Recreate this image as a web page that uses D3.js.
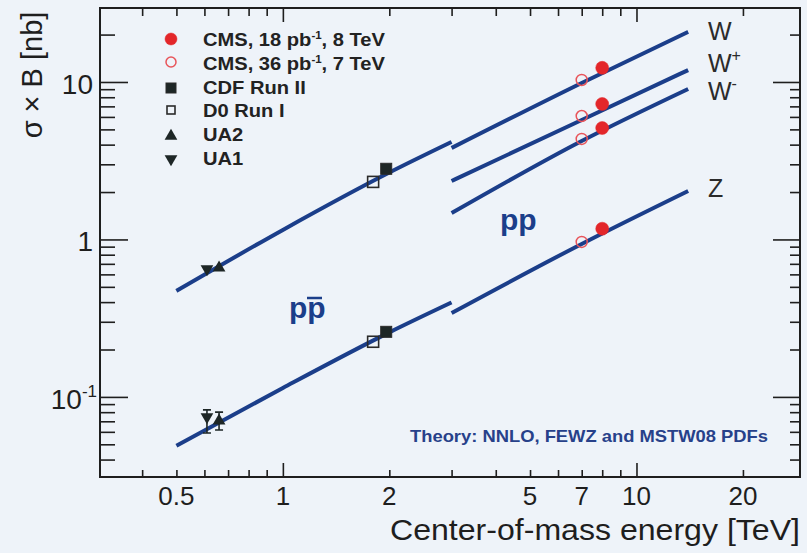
<!doctype html>
<html>
<head>
<meta charset="utf-8">
<script src="https://d3js.org/d3.v7.min.js"></script>
<style>
  body { margin: 0; background: #eef3f9; }
  svg { display: block; font-family: "Liberation Sans", Arial, sans-serif; }
</style>
</head>
<body>
<svg width="807" height="553"></svg>
<script>
// theory curves (energy in TeV, sigma x B in nb)
var ppbarEnergy = [0.5, 1, 2, 3];
var ppbarW = [0.471, 1.15, 2.66, 4.16];
var ppbarZ = [0.0489, 0.114, 0.257, 0.398];
var ppEnergy = [3, 7, 14];
var ppW = [3.81, 9.86, 20.8];
var ppWplus = [2.35, 5.74, 11.9];
var ppWminus = [1.47, 4.22, 9.03];
var ppZ = [0.341, 0.936, 2.03];

// measurements: [W, Z] or [W, W+, W-, Z]
var cms8Energy = 8, cms8Values = [12.3, 7.25, 5.1, 1.17];
var cms7Energy = 7, cms7Values = [10.3, 6.08, 4.35, 0.964];
var cdfEnergy = 1.96, cdfValues = [2.81, 0.259];
var d0Energy = 1.8, d0Values = [2.32, 0.224];
var ua1Energy = 0.61, ua1Values = [0.65, 0.0746], ua1ZErr = [0.059, 0.0827];
var ua2Energy = 0.66, ua2Values = [0.66, 0.0704], ua2ZErr = [0.0617, 0.080];

// tick labels
var xTickValues = [0.5, 1, 2, 5, 7, 10, 20];
var yTickValues = [0.1, 1, 10];
var yTickText = ["10", "1", "10"];
var yTickSup = ["-1", "", ""];

var svg = d3.select("svg");
var blue = "#1b3e8a", red = "#e3262a", ink = "#1e1e1e";

svg.append("rect").attr("width", 807).attr("height", 553).attr("fill", "#eef3f9");

var x = d3.scaleLog().domain([0.304, 29]).range([100, 800]);
var y = d3.scaleLog().domain([0.031, 29.5]).range([477, 8]);

function isDecade(v) { return Math.abs(Math.log10(v) - Math.round(Math.log10(v))) < 1e-6; }
var xMinor = x.ticks().filter(function(d) { return !isDecade(d); });
var xMajor = x.ticks().filter(isDecade);
var yMinor = y.ticks().filter(function(d) { return !isDecade(d); });
var yMajor = y.ticks().filter(isDecade);

function addTicks(axis, tr, vals, size) {
    var g = svg.append("g").attr("transform", tr)
        .call(axis.tickValues(vals).tickSize(size).tickFormat(""));
    g.select(".domain").remove();
    g.selectAll("line").attr("stroke", ink).attr("stroke-width", 1.6);
}
// all ticks point into the frame
addTicks(d3.axisTop(x), "translate(0,477)", xMinor, 7);
addTicks(d3.axisTop(x), "translate(0,477)", xMajor, 14);
addTicks(d3.axisBottom(x), "translate(0,8)", xMinor, 8);
addTicks(d3.axisBottom(x), "translate(0,8)", xMajor, 14);
addTicks(d3.axisRight(y), "translate(100,0)", yMinor, 15);
addTicks(d3.axisRight(y), "translate(100,0)", yMajor, 28);
addTicks(d3.axisLeft(y), "translate(800,0)", yMinor, 10);
addTicks(d3.axisLeft(y), "translate(800,0)", yMajor, 27);

svg.append("rect")
   .attr("x", 100).attr("y", 8).attr("width", 700).attr("height", 469)
   .attr("fill", "none").attr("stroke", ink).attr("stroke-width", 2);

// tick labels
svg.selectAll(".xlab").data(xTickValues).enter().append("text")
   .attr("x", function(d) { return x(d); })
   .attr("y", 505)
   .attr("text-anchor", "middle")
   .attr("font-size", "26px")
   .attr("fill", ink)
   .text(function(d) { return d; });

yTickValues.forEach(function(v, i) {
    var t = svg.append("text")
       .attr("x", yTickSup[i] ? 97 : 93)
       .attr("y", y(v) + 12)
       .attr("text-anchor", "end")
       .attr("font-size", "28px")
       .attr("fill", ink)
       .text(yTickText[i]);
    if (yTickSup[i]) {
        t.append("tspan").attr("font-size", "17px").attr("dy", -12).text(yTickSup[i]);
    }
});

// axis titles
svg.append("text")
   .attr("x", 390).attr("y", 540)
   .attr("font-size", "29px")
   .attr("textLength", 410).attr("lengthAdjust", "spacingAndGlyphs")
   .attr("fill", ink)
   .text("Center-of-mass energy [TeV]");

svg.append("text")
   .attr("transform", "translate(42,75) rotate(-90)")
   .attr("text-anchor", "middle")
   .attr("font-size", "29px")
   .attr("fill", ink)
   .text("σ × B [nb]");

// theory lines
var line = d3.line()
    .x(function(d) { return x(d[0]); })
    .y(function(d) { return y(d[1]); })
    .curve(d3.curveMonotoneX);

function curve(en, vals) {
    svg.append("path")
       .datum(en.map(function(e, i) { return [e, vals[i]]; }))
       .attr("d", line)
       .attr("fill", "none")
       .attr("stroke", blue)
       .attr("stroke-width", 4);
}
curve(ppbarEnergy, ppbarW);
curve(ppbarEnergy, ppbarZ);
curve(ppEnergy, ppW);
curve(ppEnergy, ppWplus);
curve(ppEnergy, ppWminus);
curve(ppEnergy, ppZ);

// markers
function square(cx, cy, s, filled) {
    svg.append("rect")
       .attr("x", cx - s / 2).attr("y", cy - s / 2)
       .attr("width", s).attr("height", s)
       .attr("fill", filled ? "#1d2626" : "none")
       .attr("stroke", "#2a2a2a").attr("stroke-width", filled ? 1 : 1.6);
}
function tri(cx, cy, s, down) {
    var sym = d3.symbol().type(d3.symbolTriangle).size(s)();
    svg.append("path").attr("d", sym)
       .attr("transform", "translate(" + cx + "," + cy + ")" + (down ? " rotate(180)" : ""))
       .attr("fill", "#1d2626");
}
function circ(cx, cy, r, filled) {
    svg.append("circle")
       .attr("cx", cx).attr("cy", cy).attr("r", r)
       .attr("fill", filled ? red : "none")
       .attr("stroke", filled ? red : "#e8545a")
       .attr("stroke-width", filled ? 0.5 : 1.5);
}
function errbar(e, lo, hi) {
    var gx = x(e);
    svg.append("path")
       .attr("d", "M" + gx + "," + y(lo) + "V" + y(hi) + "M" + (gx - 4) + "," + y(hi) + "H" + (gx + 4)
            + "M" + (gx - 4) + "," + y(lo) + "H" + (gx + 4))
       .attr("stroke", "#1d2626").attr("stroke-width", 1.6).attr("fill", "none");
}

d0Values.forEach(function(v) { square(x(d0Energy), y(v), 11, false); });
cdfValues.forEach(function(v) { square(x(cdfEnergy), y(v), 11, true); });
errbar(ua1Energy, ua1ZErr[0], ua1ZErr[1]);
errbar(ua2Energy, ua2ZErr[0], ua2ZErr[1]);
ua1Values.forEach(function(v) { tri(x(ua1Energy), y(v), 70, true); });
ua2Values.forEach(function(v) { tri(x(ua2Energy), y(v), 70, false); });
cms7Values.forEach(function(v) { circ(x(cms7Energy), y(v), 5.5, false); });
cms8Values.forEach(function(v) { circ(x(cms8Energy), y(v), 6.5, true); });

// curve labels
var curveLabels = [["W", "", 40], ["W", "+", 72], ["W", "-", 100], ["Z", "", 197]];
curveLabels.forEach(function(c) {
    var t = svg.append("text").attr("x", 708).attr("y", c[2])
       .attr("font-size", "25px").attr("fill", "#2b2b2b").text(c[0]);
    if (c[1]) t.append("tspan").attr("font-size", "16px").attr("dy", -11).text(c[1]);
});

svg.append("text").attr("x", 500).attr("y", 230)
   .attr("font-size", "30px").attr("font-weight", "bold").attr("fill", blue).text("pp");
svg.append("text").attr("x", 289).attr("y", 318)
   .attr("font-size", "30px").attr("font-weight", "bold").attr("fill", blue).text("pp");
svg.append("line").attr("x1", 307).attr("x2", 322).attr("y1", 298).attr("y2", 298)
   .attr("stroke", blue).attr("stroke-width", 2.5);

svg.append("text").attr("x", 410).attr("y", 442)
   .attr("font-size", "17px").attr("font-weight", "bold").attr("fill", "#27418a")
   .attr("textLength", 358).attr("lengthAdjust", "spacingAndGlyphs")
   .text("Theory: NNLO, FEWZ and MSTW08 PDFs");

// legend
var legendText = ["CMS, 18 pb", "CMS, 36 pb", "CDF Run II", "D0 Run I", "UA2", "UA1"];
var legendTail = [", 8 TeV", ", 7 TeV", "", "", "", ""];
legendText.forEach(function(s, i) {
    var by = 46 + i * 23.8;
    var t = svg.append("text")
       .attr("transform", "translate(203," + by + ") scale(1.15,1)")
       .attr("font-size", "17.5px").attr("font-weight", "bold").attr("fill", "#222");
    if (legendTail[i]) {
        t.append("tspan").text(s);
        t.append("tspan").attr("font-size", "10px").attr("dy", -7).text("-1");
        t.append("tspan").attr("dy", 7).text(legendTail[i]);
    } else {
        t.text(s);
    }
});
circ(171, 39, 6, true);
circ(171, 62, 5, false);
square(171, 88, 10, true);
square(171, 110, 8, false);
tri(171, 136, 70, false);
tri(171, 159, 70, true);
</script>
</body>
</html>
